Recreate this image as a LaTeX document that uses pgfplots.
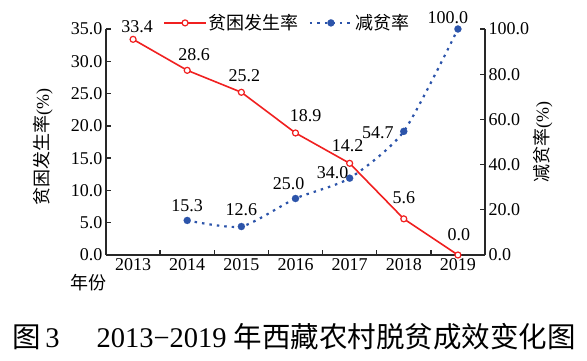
\documentclass[border=0pt]{standalone}
\usepackage{pgfplots}
\usepackage{pgfplotstable}
\pgfplotsset{compat=1.18}
\usepackage{fontspec}
\setmainfont{Liberation Serif}
\newfontfamily\cjk{Noto Sans CJK SC}
\definecolor{myred}{RGB}{240,32,32}
\definecolor{myblue}{RGB}{44,84,170}
\definecolor{axc}{RGB}{40,40,40}

% year index (0=2013), poverty incidence (%), label offsets
\pgfplotstableread{
x y dx dy
0 33.4 4 13
1 28.6 7 16
2 25.2 3 17
3 18.9 10 17
4 14.2 -2 18
5 5.6 0 21
6 0.0 1 20
}\incidence

% year index, poverty reduction rate (%), label offsets
\pgfplotstableread{
x y dx dy
1 15.3 0 15
2 12.6 0 17
3 25.0 -7 15
4 34.0 -17 6
5 54.7 -26 -1
6 100.0 -10 11
}\reduction

\pgfplotsset{
  redstyle/.style={color=myred, line width=1.6pt, mark=*, mark size=3pt,
    mark options={solid, fill=white, draw=myred, line width=1.2pt}},
  bluestyle/.style={color=myblue, line width=2.2pt, dash pattern=on 2.5pt off 5pt,
    mark=*, mark size=3.6pt, mark options={solid, fill=myblue, draw=myblue, line width=0.1pt}},
  common/.style={
    at={(106pt,105pt)}, anchor=south west, scale only axis,
    width=379pt, height=226pt,
    xmin=-0.5, xmax=6.5,
    clip=false,
    font=\fontsize{18}{20}\selectfont,
    /pgf/number format/assume math mode=true,
    tick align=inside,
    major tick length=5pt,
    tick style={draw=axc, line width=1.3pt},
    axis line style={axc, line width=1.4pt, -},
  }
}

\begin{document}
\begin{tikzpicture}[x=1pt,y=1pt]
\useasboundingbox (0,0) rectangle (587,360);
\begin{axis}[common,
  axis x line*=bottom, axis y line*=left,
  ymin=0, ymax=35,
  ytick={0,5,...,35},
  yticklabel style={/pgf/number format/.cd, fixed, fixed zerofill, precision=1},
  xtick={0.5,1.5,...,5.5},
  xticklabels={},
  extra x ticks={0,1,2,3,4,5,6},
  extra x tick labels={2013,2014,2015,2016,2017,2018,2019},
  extra x tick style={major tick length=0pt},
  ylabel={\cjk 贫困发生率{\rmfamily(\%)}},
  ylabel style={at={(axis description cs:-0.166,0.478)}, anchor=center},
  xlabel={\cjk 年份},
  xlabel style={at={(axis description cs:-0.047,-0.124)}, anchor=center},
  legend style={draw=none, fill=none, at={(axis description cs:0.478,1.027)}, anchor=center,
    font=\fontsize{18}{20}\selectfont,
    /tikz/every even column/.append style={column sep=8pt}},
  legend columns=2,
  legend image code/.code={\draw[mark repeat=2, mark phase=2, #1] plot coordinates {(0pt,0pt) (21pt,0pt) (42pt,0pt)};},
]
\addplot[redstyle, forget plot,
  visualization depends on={\thisrow{dx} \as \dx},
  visualization depends on={\thisrow{dy} \as \dy},
  nodes near coords={\pgfmathprintnumber[fixed, fixed zerofill, precision=1, assume math mode=true]{\pgfplotspointmeta}},
  every node near coord/.append style={anchor=center, xshift=\dx pt, yshift=\dy pt, text=black, font=\fontsize{18}{20}\selectfont},
] table[x=x, y=y] {\incidence};
\addlegendimage{redstyle}
\addlegendentry{\cjk 贫困发生率}
\addlegendimage{bluestyle}
\addlegendentry{\cjk 减贫率}
\end{axis}
\begin{axis}[common,
  axis y line*=right, axis x line=none,
  ymin=0, ymax=100,
  ytick={0,20,...,100},
  yticklabel style={/pgf/number format/.cd, fixed, fixed zerofill, precision=1},
  ylabel={\cjk 减贫率{\rmfamily(\%)}},
  ylabel style={at={(axis description cs:1.153,0.50)}, anchor=center},
]
\addplot[bluestyle, smooth, tension=0.4,
  visualization depends on={\thisrow{dx} \as \dx},
  visualization depends on={\thisrow{dy} \as \dy},
  nodes near coords={\pgfmathprintnumber[fixed, fixed zerofill, precision=1, assume math mode=true]{\pgfplotspointmeta}},
  every node near coord/.append style={anchor=center, xshift=\dx pt, yshift=\dy pt, text=black, font=\fontsize{18}{20}\selectfont},
] table[x=x, y=y] {\reduction};
\end{axis}
\node[font=\fontsize{28.5}{30}\selectfont, anchor=center] at (294,23)
  {\cjk 图\,{\rmfamily 3}\hspace{1.3em}{\rmfamily 2013−2019}\hspace{0.25em}年西藏农村脱贫成效变化图};
\end{tikzpicture}
\end{document}
